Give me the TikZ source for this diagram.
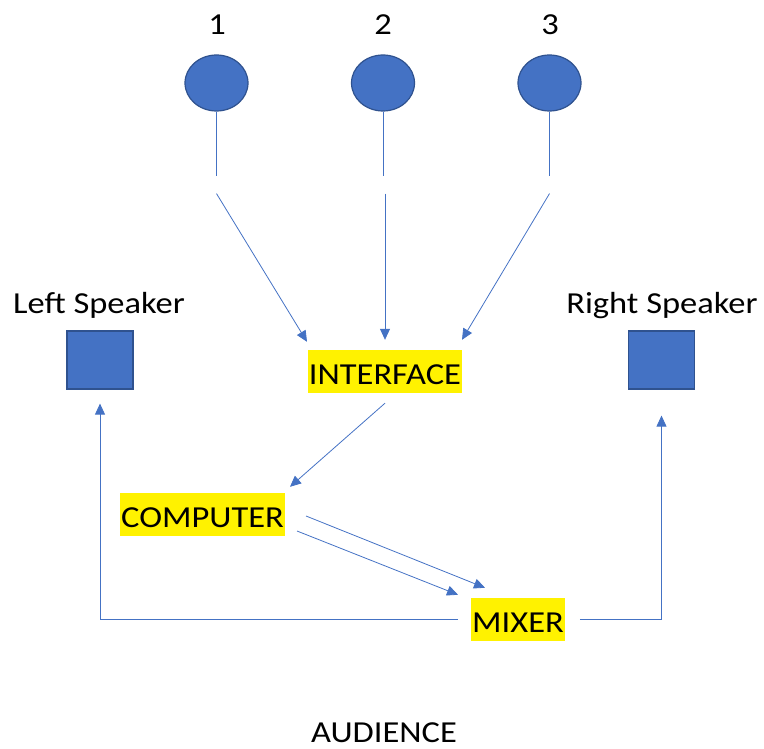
\documentclass[tikz,border=0pt]{standalone}
\usepackage{fontspec}
\setmainfont{Carlito}[FakeStretch=1.13]
\usepackage{tikz}
\usetikzlibrary{arrows.meta, positioning, shapes.geometric}
\definecolor{officeblue}{HTML}{4472C4}
\definecolor{officeedge}{HTML}{2F528F}
\tikzset{%
	every mic/.style={
		ellipse,
		fill=officeblue,
		draw=officeedge,
		line width=1.2pt,
		minimum width=63pt,
		minimum height=56pt
	},
	speaker box/.style={
		rectangle,
		fill=officeblue,
		draw=officeedge,
		line width=1.2pt,
		minimum width=66pt,
		minimum height=58pt
	},
	marked/.style={
		fill=yellow,
		inner xsep=1pt,
		inner ysep=0pt,
		text height=34pt,
		text depth=9pt
	},
	plain text/.style={
		anchor=base,
		inner sep=0pt
	},
	wire/.style={
		draw=officeblue,
		line width=0.8pt
	},
	arrow wire/.style={
		wire,
		-{Triangle[length=11pt,width=10pt]}
	},
}
\begin{document}
\begin{tikzpicture}[x=1pt, y=-1pt, font=\fontsize{30.5}{36}\selectfont]
			\useasboundingbox (0,0) rectangle (764,749);
			
			% Draw the microphones
			\node[plain text] (n1) at (217,35) {1};
			\node[plain text] (n2) at (383,35) {2};
			\node[plain text] (n3) at (550,35) {3};
			\node[every mic] (m1) at (216.5,83) {};
			\node[every mic] (m2) at (383,83) {};
			\node[every mic] (m3) at (549.5,83) {};
			
			% Draw the speakers
			\node[plain text] (lname) at (99,313) {Left Speaker};
			\node[plain text] (rname) at (662,313) {Right Speaker};
			\node[speaker box] (lspk) at (100,360) {};
			\node[speaker box] (rspk) at (661.5,360) {};
			
			% Draw the devices
			\node[marked] (iface) at (385,371.5) {INTERFACE};
			\node[marked] (comp) at (202.5,514.5) {COMPUTER};
			\node[marked] (mixer) at (518,619.5) {MIXER};
			\node[plain text] (crowd) at (384,742) {AUDIENCE};
			
			% Draw stubs below the microphones
			\draw[wire] (m1.south) -- ++(0,64);
			\draw[wire] (m2.south) -- ++(0,64);
			\draw[wire] (m3.south) -- ++(0,64);
			
			% Arrows from microphones to interface
			\draw[arrow wire] ([yshift=-82pt]m1.south) -- ([xshift=-78pt,yshift=8pt]iface.north);
			\draw[arrow wire] ([xshift=2pt,yshift=-82pt]m2.south) -- ([yshift=10pt]iface.north);
			\draw[arrow wire] ([yshift=-82pt]m3.south) -- ([xshift=77pt,yshift=10pt]iface.north);
			
			% Arrows from interface to computer to mixer
			\draw[arrow wire] ([yshift=-10pt]iface.south) -- ([xshift=5pt,yshift=6pt]comp.north east);
			\draw[arrow wire] ([xshift=21pt,yshift=-1.5pt]comp.east) -- ([xshift=14pt,yshift=10pt]mixer.north west);
			\draw[arrow wire] ([xshift=12pt,yshift=-16.5pt]comp.east) -- ([xshift=-13pt,yshift=3pt]mixer.north west);
			
			% Arrows from mixer to speakers
			\draw[arrow wire] ([xshift=-13pt]mixer.west) -| ([yshift=-14pt]lspk.south);
			\draw[arrow wire] ([xshift=15pt]mixer.east) -| ([yshift=-26pt]rspk.south);
			
		\end{tikzpicture}
\end{document}
